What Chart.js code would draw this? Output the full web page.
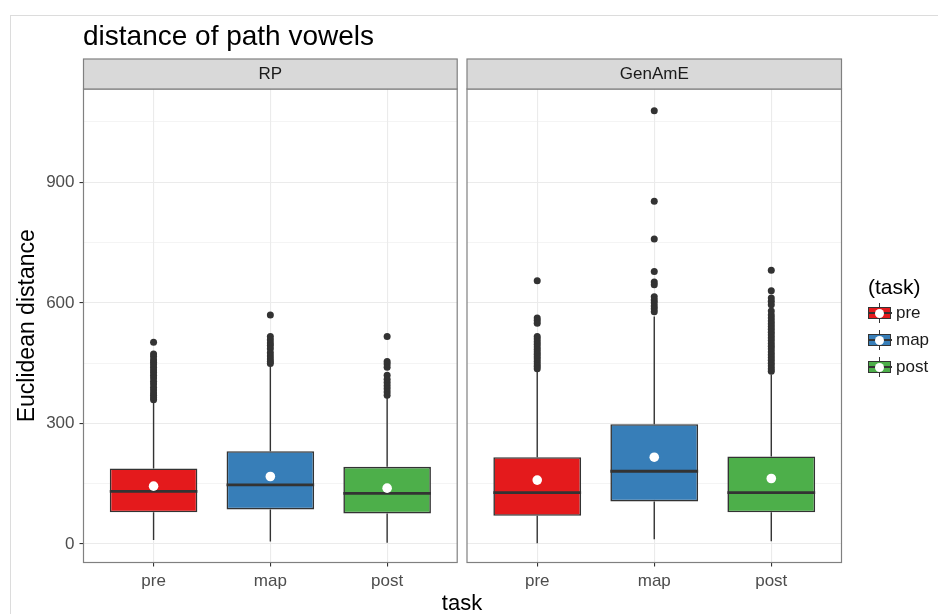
<!DOCTYPE html>
<html>
<head>
<meta charset="utf-8">
<script src="https://cdn.jsdelivr.net/npm/chart.js@4.4.1/dist/chart.umd.min.js"></script>
<style>
  body { margin: 0; background: #fff; font-family: "Liberation Sans", Arial, sans-serif; }
  #wrap { position: relative; width: 938px; height: 614px; overflow: hidden; }
  #frame { position: absolute; left: 10px; top: 15px; right: 0; bottom: 0; border-top: 1px solid #dcdcdc; border-left: 1px solid #dcdcdc; }
  canvas { position: absolute; top: 0; }
  #title { position: absolute; left: 83px; top: 22px; font-size: 28px; line-height: 28px; color: #000; white-space: nowrap; }
  #xtitle { position: absolute; left: 362px; width: 200px; text-align: center; top: 592px; font-size: 22px; line-height: 22px; color: #000; }
  #legend { position: absolute; left: 868px; top: 275px; }
  #legend .ttl { font-size: 21px; line-height: 24px; color: #000; margin-bottom: 4px; }
  #legend .item { position: relative; height: 27px; }
  #legend .key { position: absolute; left: 0; top: 0; width: 24px; height: 20px; }
  #legend .wh { position: absolute; left: 11px; top: 0; width: 1.4px; height: 20px; background: #333; }
  #legend .bx { position: absolute; left: 0; top: 4px; width: 21px; height: 10px; border: 1.4px solid #333; }
  #legend .md { position: absolute; left: 0; top: 8.5px; width: 24px; height: 2.5px; background: #333; }
  #legend .dot { position: absolute; left: 7px; top: 5.5px; width: 9px; height: 9px; border-radius: 50%; background: #fff; }
  #legend .lab { position: absolute; left: 28px; top: 0; font-size: 17px; line-height: 20px; color: #1a1a1a; }
</style>
</head>
<body>
<div id="wrap">
  <div id="frame"></div>
  <canvas id="rp" width="462" height="614" style="left:0"></canvas>
  <canvas id="gen" width="476" height="614" style="left:462px"></canvas>
  <div id="title">distance of path vowels</div>
  <div id="xtitle">task</div>
  <div id="legend"></div>
</div>
<script>
const tasks = ['pre', 'map', 'post']
const taskColors = ['#e41a1c', '#377eb8', '#4daf4a']
const yTicks = [0, 150, 300, 450, 600, 750, 900, 1050]

// RP panel: whisker ends, quartiles, medians, means
const rpLow = [10, 6, 3]
const rpQ1 = [79, 86, 76]
const rpMedian = [131, 147, 126]
const rpQ3 = [188, 231, 192]
const rpHigh = [357, 446, 366]
const rpMean = [144, 168, 139]
const rpPreOut = [502, 473, 466, 458, 452, 446, 440, 433, 427, 420, 413, 405, 398, 390, 383, 376, 370, 364, 359]
const rpMapOut = [570, 516, 508, 500, 494, 486, 476, 468, 460, 454, 449]
const rpPostOut = [516, 454, 448, 440, 420, 410, 402, 394, 386, 378, 370]

// GenAmE panel
const genLow = [2, 12, 7]
const genQ1 = [70, 106, 79]
const genMedian = [128, 181, 128]
const genQ3 = [216, 298, 218]
const genHigh = [430, 566, 422]
const genMean = [159, 216, 163]
const genPreOut = [655, 562, 556, 549, 516, 510, 503, 497, 490, 484, 478, 472, 466, 460, 454, 448, 442, 436]
const genMapOut = [1078, 853, 759, 678, 652, 645, 615, 607, 600, 592, 585, 578]
const genPostOut = [681, 630, 612, 604, 595, 580, 570, 562, 555, 548, 541, 534, 527, 520, 513, 506, 499, 492, 485, 478, 471, 464, 457, 450, 443, 436, 430]

const font = '"Liberation Sans", Arial, sans-serif'

const boxParts = (panel, low, median, high, q1, q3) => ({
  id: 'boxParts',
  beforeDatasetDraw(chart, args) {
    if (args.meta.type !== 'bar') return
    const {ctx, scales: {x, y}} = chart
    ctx.save()
    ctx.strokeStyle = '#333'
    ctx.lineWidth = 1.4
    tasks.forEach((t, i) => {
      const px = x.getPixelForValue(i + 1)
      ctx.beginPath()
      ctx.moveTo(px, y.getPixelForValue(low[i]))
      ctx.lineTo(px, y.getPixelForValue(q1[i]))
      ctx.moveTo(px, y.getPixelForValue(q3[i]))
      ctx.lineTo(px, y.getPixelForValue(high[i]))
      ctx.stroke()
    })
    ctx.restore()
  },
  afterDatasetDraw(chart, args) {
    if (args.meta.type !== 'bar') return
    const {ctx, scales: {y}} = chart
    ctx.save()
    ctx.strokeStyle = '#333'
    ctx.lineWidth = 2.8
    args.meta.data.forEach((bar, i) => {
      const py = y.getPixelForValue(median[i])
      ctx.beginPath()
      ctx.moveTo(bar.x - bar.width / 2, py)
      ctx.lineTo(bar.x + bar.width / 2, py)
      ctx.stroke()
    })
    ctx.restore()
  },
  afterDraw(chart) {
    const {ctx, chartArea: a} = chart
    ctx.save()
    ctx.strokeStyle = '#808080'
    ctx.lineWidth = 1.2
    ctx.strokeRect(a.left, a.top, a.right - a.left, a.bottom - a.top)
    ctx.fillStyle = '#d9d9d9'
    ctx.fillRect(a.left, a.top - 30, a.right - a.left, 30)
    ctx.strokeRect(a.left, a.top - 30, a.right - a.left, 30)
    ctx.fillStyle = '#1a1a1a'
    ctx.font = '17px ' + font
    ctx.textAlign = 'center'
    ctx.textBaseline = 'middle'
    ctx.fillText(panel, (a.left + a.right) / 2, a.top - 15)
    ctx.restore()
  }
})

function makePanel(id, panel, low, q1, median, q3, high, mean, outliers, left) {
  const outPoints = []
  outliers.forEach((vals, i) => vals.forEach(v => outPoints.push({x: i + 1, y: v})))
  return new Chart(document.getElementById(id), {
    type: 'bar',
    data: {
      datasets: [
        {
          type: 'scatter',
          data: mean.map((v, i) => ({x: i + 1, y: v})),
          backgroundColor: '#fff',
          borderWidth: 0,
          pointRadius: 4.8,
          order: 0
        },
        {
          type: 'bar',
          data: tasks.map((t, i) => ({x: i + 1, y: [q1[i], q3[i]]})),
          backgroundColor: taskColors,
          borderColor: '#333',
          borderWidth: 1.6,
          borderSkipped: false,
          barPercentage: 0.75,
          categoryPercentage: 1,
          order: 1
        },
        {
          type: 'scatter',
          data: outPoints,
          backgroundColor: '#333',
          borderWidth: 0,
          pointRadius: 3.5,
          order: 2
        }
      ]
    },
    options: {
      responsive: false,
      animation: false,
      layout: {padding: left ? {top: 89, bottom: 17.5, left: 0, right: 4.5} : {top: 89, bottom: 17.5, left: 5, right: 96.5}},
      plugins: {legend: {display: false}, tooltip: {enabled: false}},
      scales: {
        x: {
          type: 'linear',
          min: 0.4,
          max: 3.6,
          offset: false,
          afterBuildTicks: s => { s.ticks = tasks.map((t, i) => ({value: i + 1})) },
          afterFit: s => { s.height = 34 },
          ticks: {
            callback: v => tasks[v - 1],
            color: '#4d4d4d',
            font: {family: font, size: 17},
            padding: 5,
            maxRotation: 0
          },
          grid: {offset: false, color: '#ebebeb', lineWidth: 1.1, tickColor: '#333', tickLength: 4},
          border: {display: false}
        },
        y: {
          min: -46,
          max: 1132,
          afterBuildTicks: s => { s.ticks = yTicks.map(v => ({value: v})) },
          afterFit: s => { s.width = left ? 83.5 : 0 },
          ticks: {
            display: left,
            callback: v => (v % 300 === 0 ? v : ''),
            color: '#4d4d4d',
            font: {family: font, size: 17},
            padding: 5
          },
          grid: {
            color: '#ebebeb',
            lineWidth: c => (c.tick && c.tick.value % 300 === 0 ? 1.1 : 0.55),
            drawTicks: left,
            tickColor: c => (c.tick && c.tick.value % 300 === 0 ? '#333' : 'rgba(0,0,0,0)'),
            tickLength: 4
          },
          border: {display: false},
          title: {
            display: left,
            text: 'Euclidean distance',
            color: '#000',
            font: {family: font, size: 23},
            padding: {top: 14, bottom: 0}
          }
        }
      }
    },
    plugins: [boxParts(panel, low, median, high, q1, q3)]
  })
}

makePanel('rp', 'RP', rpLow, rpQ1, rpMedian, rpQ3, rpHigh, rpMean, [rpPreOut, rpMapOut, rpPostOut], true)
makePanel('gen', 'GenAmE', genLow, genQ1, genMedian, genQ3, genHigh, genMean, [genPreOut, genMapOut, genPostOut], false)

const legend = document.getElementById('legend')
legend.innerHTML = '<div class="ttl">(task)</div>' + tasks.map((t, i) =>
  '<div class="item"><div class="key"><div class="wh"></div>' +
  '<div class="bx" style="background:' + taskColors[i] + '"></div>' +
  '<div class="md"></div><div class="dot"></div></div>' +
  '<div class="lab">' + t + '</div></div>').join('')
</script>
</body>
</html>
